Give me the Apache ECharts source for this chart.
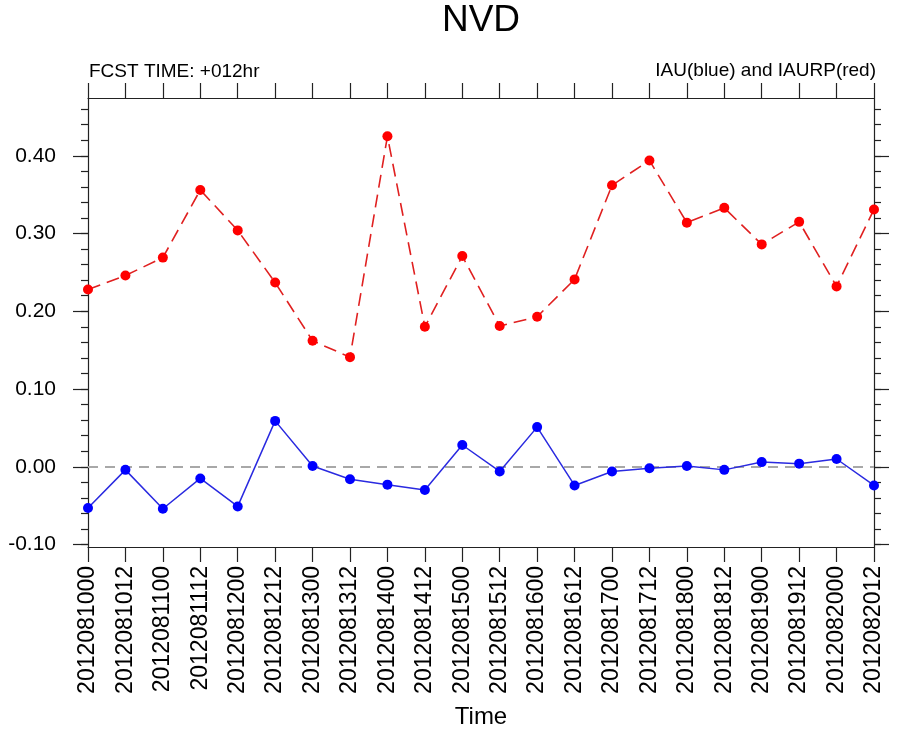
<!DOCTYPE html>
<html>
<head>
<meta charset="utf-8">
<script src="https://cdn.jsdelivr.net/npm/echarts@6/dist/echarts.min.js"></script>
<style>
html,body{margin:0;padding:0;background:#fff;}
#chart{width:902px;height:736px;}
</style>
</head>
<body>
<div id="chart"></div>
<script>
var categories = ['2012081000','2012081012','2012081100','2012081112','2012081200','2012081212',
  '2012081300','2012081312','2012081400','2012081412','2012081500','2012081512','2012081600',
  '2012081612','2012081700','2012081712','2012081800','2012081812','2012081900','2012081912',
  '2012082000','2012082012'];
var iauBlue = [-0.053,-0.004,-0.054,-0.015,-0.051,0.059,0.001,-0.016,-0.023,-0.030,0.028,-0.006,
  0.051,-0.024,-0.006,-0.002,0.001,-0.004,0.006,0.004,0.010,-0.024];
var iaurpRed = [0.228,0.246,0.269,0.356,0.304,0.237,0.162,0.141,0.425,0.180,0.271,0.181,0.193,
  0.241,0.362,0.394,0.314,0.333,0.286,0.315,0.232,0.331];
var majorTicks = [-0.10,0.00,0.10,0.20,0.30,0.40];
var minorTicks = [-0.10,-0.08,-0.06,-0.04,-0.02,0.00,0.02,0.04,0.06,0.08,0.10,0.12,0.14,0.16,0.18,
  0.20,0.22,0.24,0.26,0.28,0.30,0.32,0.34,0.36,0.38,0.40,0.42,0.44,0.46];
var yMin = -0.1032, yMax = 0.4743;

var FONT = "'Liberation Sans', Arial, Helvetica, sans-serif";
var AX = '#222';
var chart = echarts.init(document.getElementById('chart'), null, {renderer:'canvas'});

function yAx(pos, ticks, len, showLabel, showLine) {
  return {
    type:'value', position:pos, min:yMin, max:yMax,
    axisLine:{show:showLine, onZero:false, lineStyle:{color:AX, width:1.2}},
    axisTick:{show:true, inside:false, length:len, customValues:ticks, lineStyle:{color:AX, width:1.2}},
    axisLabel:{show:showLabel, customValues:majorTicks, margin:32, color:'#000', fontFamily:FONT, fontSize:21,
      formatter:function(v){return v.toFixed(2);}},
    splitLine:{show:false}
  };
}

chart.setOption({
  animation:false,
  backgroundColor:'#fff',
  grid:{left:88, right:28, top:98, bottom:189, containLabel:false, outerBoundsMode:'none'},
  graphic:[
    {type:'text', x:481, y:21, style:{text:'NVD', font:'37px '+FONT, fill:'#000', textAlign:'center', textVerticalAlign:'middle'}},
    {type:'text', x:89, y:72, style:{text:'FCST TIME: +012hr', font:'19px '+FONT, fill:'#000', textAlign:'left', textVerticalAlign:'middle'}},
    {type:'text', x:876, y:71, style:{text:'IAU(blue) and IAURP(red)', font:'19px '+FONT, fill:'#000', textAlign:'right', textVerticalAlign:'middle'}}
  ],
  xAxis:[
    {type:'category', data:categories, boundaryGap:false, position:'bottom',
     name:'Time', nameLocation:'middle', nameGap:158,
     nameTextStyle:{fontFamily:FONT, fontSize:24, color:'#000'},
     axisLine:{show:true, onZero:false, lineStyle:{color:AX, width:1.2}},
     axisTick:{show:true, inside:false, length:15, interval:0, lineStyle:{color:AX, width:1.2}},
     axisLabel:{rotate:90, interval:0, margin:19, color:'#000', fontFamily:FONT, fontSize:23},
     splitLine:{show:false}},
    {type:'category', data:categories, boundaryGap:false, position:'top',
     axisLine:{show:true, onZero:false, lineStyle:{color:AX, width:1.2}},
     axisTick:{show:true, inside:false, length:15, interval:0, lineStyle:{color:AX, width:1.2}},
     axisLabel:{show:false}, splitLine:{show:false}}
  ],
  yAxis:[
    yAx('left', majorTicks, 15, true, true),
    yAx('left', minorTicks, 7, false, false),
    yAx('right', majorTicks, 15, false, true),
    yAx('right', minorTicks, 7, false, false)
  ],
  series:[
    {type:'line', name:'IAURP', data:iaurpRed, xAxisIndex:0, yAxisIndex:0,
     symbol:'circle', symbolSize:10, showSymbol:true,
     itemStyle:{color:'#ff0000'},
     lineStyle:{color:'#e02020', width:1.6, type:[13,7]}, z:3},
    {type:'line', name:'IAU', data:iauBlue, xAxisIndex:0, yAxisIndex:0,
     symbol:'circle', symbolSize:10, showSymbol:true,
     itemStyle:{color:'#0000ff'},
     lineStyle:{color:'#2a2ae0', width:1.5}, z:3,
     markLine:{silent:true, symbol:'none', label:{show:false},
       lineStyle:{color:'#a8a8a8', width:2, type:[10,7]},
       data:[{yAxis:0}], z:1}}
  ]
});
</script>
</body>
</html>
